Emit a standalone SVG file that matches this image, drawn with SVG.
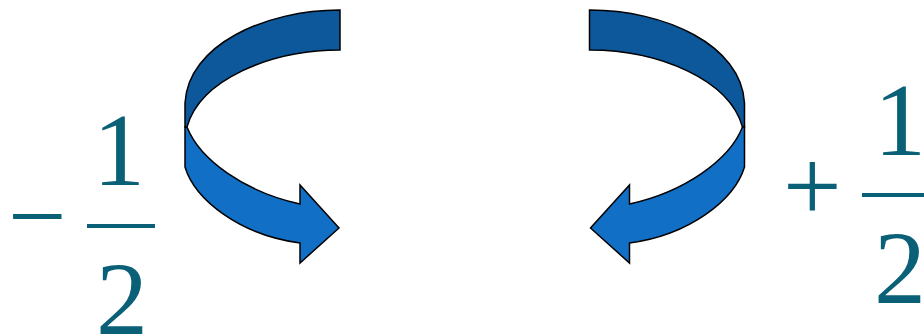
<svg xmlns="http://www.w3.org/2000/svg" width="924" height="336" viewBox="0 0 924 336">
<rect width="924" height="336" fill="#fff"/>
<defs>
<g id="arrowShape" stroke="#000" stroke-width="1.5">
<path fill="#1170C6" d="M187,127 C200,160 245,192 300,204 L300,185 L339,228 L300,263 L300,243 C240,235 195,200 185,167 L185,127 Z"/>
<path fill="#0D579B" d="M340,10 L340,50 C270,50 200,80 187,127 L185,127 L185,103 C188,45 265,10 340,10 Z"/>
</g>
</defs>
<g id="connectors">
<use id="arrow-left" href="#arrowShape"/>
<use id="arrow-right" href="#arrowShape" transform="translate(929.5,0) scale(-1,1)"/>
</g>
<g id="minus-half" font-size="104" font-family="Liberation Serif, serif" fill="#0A6177" stroke="#0A6177">
<text x="8" y="251" stroke="none">−</text>
<text x="93" y="185" stroke="none">1</text>
<line x1="87" y1="226" x2="155" y2="226" stroke-width="4"/>
<text x="96" y="334" stroke="none">2</text>
</g>
<g id="plus-half" font-size="104" font-family="Liberation Serif, serif" fill="#0A6177" stroke="#0A6177">
<text x="783" y="221" stroke="none">+</text>
<text x="874" y="155" stroke="none">1</text>
<line x1="862" y1="195" x2="935" y2="195" stroke-width="4"/>
<text x="874" y="303" stroke="none">2</text>
</g>
</svg>
